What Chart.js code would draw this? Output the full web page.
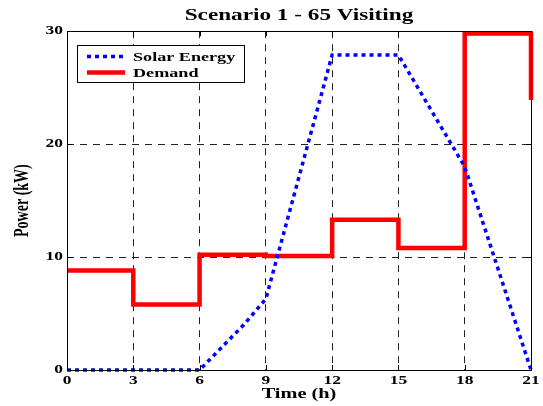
<!DOCTYPE html>
<html>
<head>
<meta charset="utf-8">
<script src="https://cdn.jsdelivr.net/npm/chart.js@4/dist/chart.umd.min.js"></script>
<style>
  html, body { margin: 0; padding: 0; background: #fff; }
  #wrap { width: 543px; height: 406px; }
</style>
</head>
<body>
<div id="wrap"><canvas id="c" width="543" height="406"></canvas></div>
<script>
// Hourly solar generation and the stepped load profile (kW)
const solarHours = [0, 3, 6, 7, 8, 9, 12, 15, 18, 21];
const solarEnergy = [0, 0, 0, 2.0, 4.0, 6.3, 27.9, 27.9, 18.0, 0];
const demandHours = [0, 3, 6, 9, 12, 15, 18, 21, 21];
const demand = [8.8, 5.8, 10.2, 10.1, 13.3, 10.8, 29.8, 29.8, 23.9];
const xTicks = [0, 3, 6, 9, 12, 15, 18, 21];
const yTicks = [0, 10, 20, 30];

const SERIF = '"Liberation Serif", "Times New Roman", serif';
const TEXT_STRETCH = 1.45; // wide horizontal lettering of the exported figure

const toPoints = (xs, ys) => xs.map((x, i) => ({ x, y: ys[i] }));

// Widen every glyph run horizontally (in screen space) around its anchor point
const wideTextPlugin = {
  id: 'wideText',
  beforeInit(chart) {
    const ctx = chart.ctx;
    const orig = ctx.fillText.bind(ctx);
    ctx.fillText = function (text, x, y, maxWidth) {
      const m = ctx.getTransform();
      const p = m.transformPoint(new DOMPoint(x, y));
      ctx.save();
      ctx.setTransform(new DOMMatrix()
        .translate(p.x, p.y).scale(TEXT_STRETCH, 1).translate(-p.x, -p.y)
        .multiply(m));
      orig(text, x, y);
      ctx.restore();
    };
  }
};

// Solid box around the plot area with short inward tick marks on all sides
const framePlugin = {
  id: 'frame',
  afterDatasetsDraw(chart) {
    const { ctx, chartArea: a, scales: { x, y } } = chart;
    ctx.save();
    ctx.strokeStyle = '#000';
    ctx.lineWidth = 1;
    ctx.setLineDash([]);
    ctx.beginPath();
    const L = 5;
    xTicks.forEach(v => {
      const px = Math.round(x.getPixelForValue(v)) + 0.5;
      ctx.moveTo(px, a.bottom); ctx.lineTo(px, a.bottom - L);
      ctx.moveTo(px, a.top); ctx.lineTo(px, a.top + L);
    });
    yTicks.forEach(v => {
      const py = Math.round(y.getPixelForValue(v)) + 0.5;
      ctx.moveTo(a.left, py); ctx.lineTo(a.left + L, py);
      ctx.moveTo(a.right, py); ctx.lineTo(a.right - L, py);
    });
    ctx.stroke();
    ctx.strokeRect(Math.round(a.left) + 0.5, Math.round(a.top) + 0.5,
                   Math.round(a.right - a.left), Math.round(a.bottom - a.top));
    ctx.restore();
  }
};

// Boxed legend in the upper-left corner of the plot
const boxLegendPlugin = {
  id: 'boxLegend',
  afterDraw(chart) {
    const { ctx } = chart;
    const x0 = 77, y0 = 45, w = 167, h = 37;
    ctx.save();
    ctx.fillStyle = '#fff';
    ctx.fillRect(x0, y0, w, h);
    ctx.strokeStyle = '#000';
    ctx.lineWidth = 1;
    ctx.strokeRect(x0 + 0.5, y0 + 0.5, w, h);
    ctx.font = 'bold 12.5px ' + SERIF;
    ctx.textBaseline = 'middle';
    ctx.textAlign = 'left';
    chart.data.datasets.forEach((ds, i) => {
      const ly = y0 + 11.5 + i * 16;
      ctx.strokeStyle = ds.borderColor;
      ctx.lineWidth = ds.borderWidth;
      ctx.setLineDash(ds.borderDash || []);
      ctx.beginPath();
      ctx.moveTo(x0 + 10, ly);
      ctx.lineTo(x0 + 48, ly);
      ctx.stroke();
      ctx.setLineDash([]);
      ctx.fillStyle = '#000';
      ctx.fillText(ds.label, x0 + 56, ly + 1.5);
    });
    ctx.restore();
  }
};

new Chart(document.getElementById('c'), {
  type: 'line',
  data: {
    datasets: [
      {
        label: 'Solar Energy',
        data: toPoints(solarHours, solarEnergy),
        borderColor: '#0000ff',
        borderWidth: 3.5,
        borderDash: [4, 4],
        pointRadius: 0,
        tension: 0,
        fill: false,
        clip: false
      },
      {
        label: 'Demand',
        data: toPoints(demandHours, demand),
        borderColor: '#ff0000',
        borderWidth: 4.5,
        stepped: true,
        pointRadius: 0,
        fill: false,
        clip: false
      }
    ]
  },
  options: {
    responsive: false,
    devicePixelRatio: 1,
    animation: false,
    layout: { padding: { left: 0, right: 12, top: 0, bottom: 0 } },
    plugins: {
      legend: { display: false },
      tooltip: { enabled: false },
      title: {
        display: true,
        text: 'Scenario 1 - 65 Visiting',
        fullSize: false,
        color: '#000',
        font: { family: SERIF, size: 16, weight: 'bold', lineHeight: 1.2 },
        padding: { top: 6, bottom: 6 }
      }
    },
    scales: {
      x: {
        type: 'linear',
        min: 0,
        max: 21,
        afterBuildTicks: s => { s.ticks = xTicks.map(v => ({ value: v })); },
        afterFit: s => { s.height = 36; },
        ticks: {
          color: '#000',
          padding: 4,
          maxRotation: 0,
          font: { family: SERIF, size: 12, weight: 'bold' }
        },
        grid: { color: '#222', lineWidth: 1, drawTicks: false },
        border: { display: false, dash: [7, 6] },
        title: {
          display: true,
          text: 'Time (h)',
          color: '#000',
          font: { family: SERIF, size: 14, weight: 'bold', lineHeight: 1.2 },
          padding: { top: 0, bottom: 3 }
        }
      },
      y: {
        type: 'linear',
        min: 0,
        max: 30,
        afterBuildTicks: s => { s.ticks = yTicks.map(v => ({ value: v })); },
        afterFit: s => { s.width = 67; },
        ticks: {
          color: '#000',
          padding: 4,
          font: { family: SERIF, size: 12, weight: 'bold' }
        },
        grid: { color: '#222', lineWidth: 1, drawTicks: false },
        border: { display: false, dash: [7, 6] },
        title: {
          display: true,
          text: 'Power (kW)',
          color: '#000',
          font: { family: SERIF, size: 14, weight: 'bold', lineHeight: 1.2 },
          padding: { top: 14, bottom: 0 }
        }
      }
    }
  },
  plugins: [wideTextPlugin, framePlugin, boxLegendPlugin]
});
</script>
</body>
</html>
